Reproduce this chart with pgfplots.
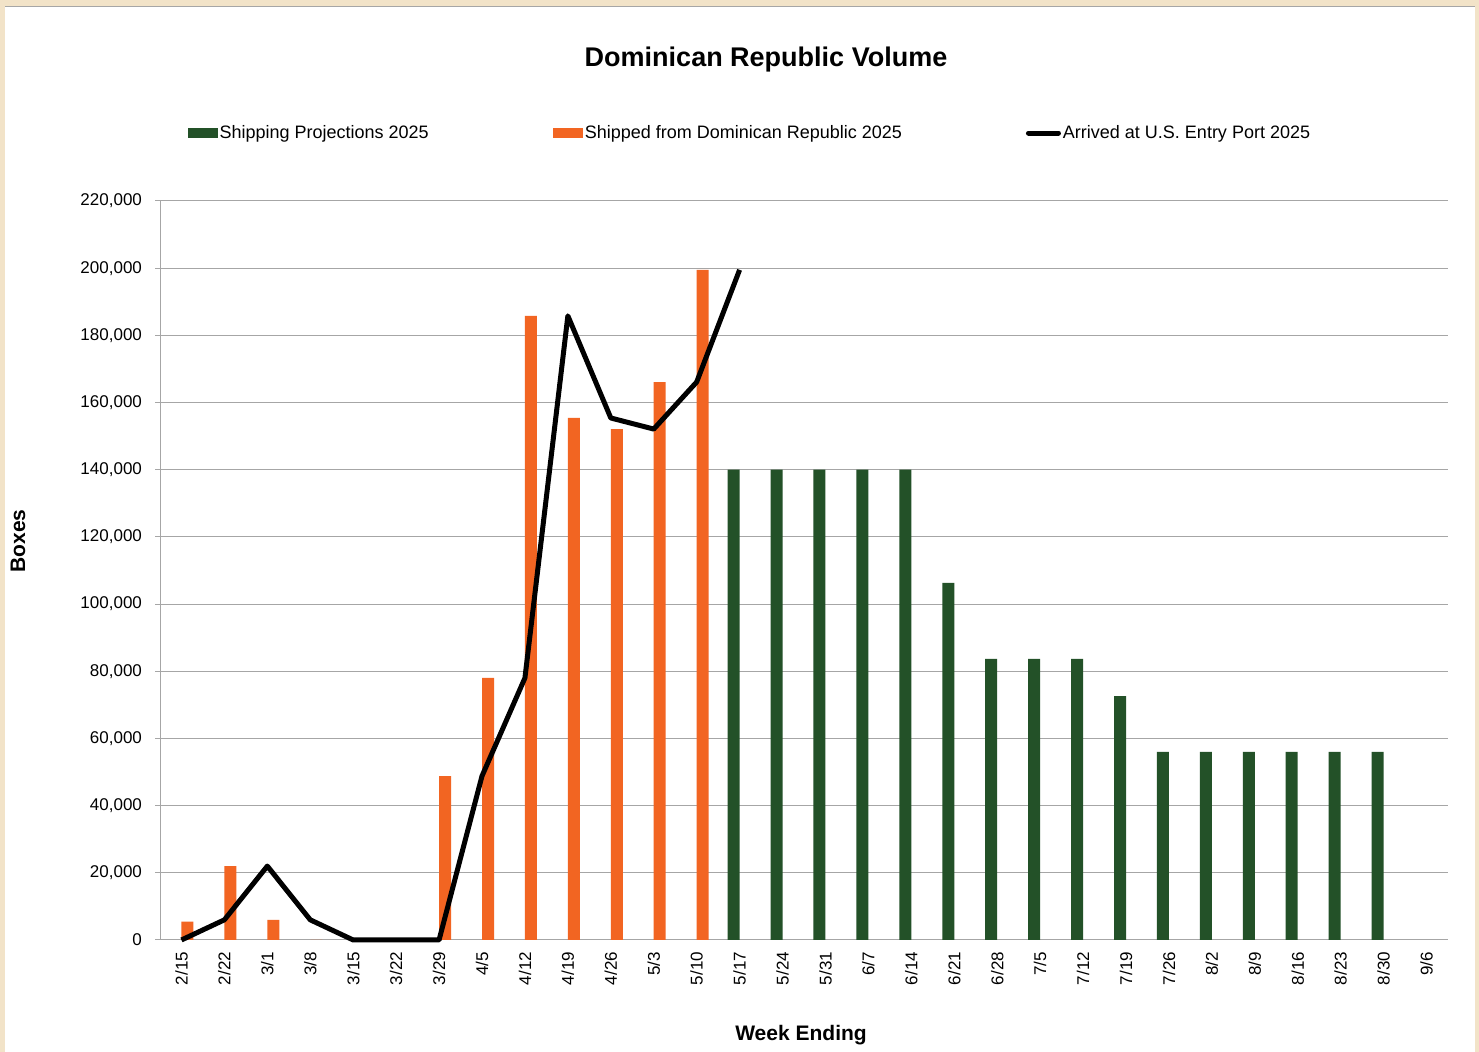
\documentclass[border=0pt]{standalone}
\usepackage{fontspec}
\setmainfont{Liberation Sans}
\usepackage{pgfplots}
\pgfplotsset{compat=1.18}
\definecolor{frame}{HTML}{F2E3C8}
\definecolor{shipped}{HTML}{F26522}
\definecolor{proj}{HTML}{235128}
\definecolor{gridgray}{HTML}{A6A6A6}

\begin{document}
\begin{tikzpicture}
\fill[frame] (0,0) rectangle (739.5pt,526pt);
\fill[white] (2.5pt,0) rectangle (737.5pt,522.5pt);
\draw[gridgray,line width=0.5pt] (2.5pt,522.5pt) -- (737.5pt,522.5pt);
\begin{axis}[
  at={(80pt,56pt)}, anchor=south west,
  scale only axis, width=644pt, height=369.5pt,
  ybar=0pt, bar width=6pt,
  xmin=-0.5, xmax=29.5, ymin=0, ymax=220000,
  clip=false,
  axis lines*=left,
  axis line style={gridgray,line width=0.5pt},
  tick align=outside,
  major tick length=2.5pt, minor tick length=2.5pt,
  xtick={0,...,29},
  xticklabels={2/15,2/22,3/1,3/8,3/15,3/22,3/29,4/5,4/12,4/19,4/26,5/3,5/10,5/17,5/24,5/31,6/7,6/14,6/21,6/28,7/5,7/12,7/19,7/26,8/2,8/9,8/16,8/23,8/30,9/6},
  minor xtick={-0.5,0.5,...,29.5},
  xtick style={draw=none},
  minor x tick style={gridgray,line width=0.5pt},
  ytick={0,20000,...,220000},
  ytick style={gridgray,line width=0.5pt},
  ymajorgrids, major grid style={gridgray,line width=0.5pt},
  scaled y ticks=false,
  /pgf/number format/.cd, fixed, 1000 sep={,}, assume math mode=true,
  /pgfplots/.cd,
  ticklabel style={font=\fontsize{8.5}{10}\selectfont},
  xticklabel style={rotate=90, anchor=east},
  yticklabel style={xshift=-3pt},
  title={Dominican Republic Volume},
  title style={font=\bfseries\fontsize{13.5}{15}\selectfont, at={(axis description cs:0.4705,1.1746)}, anchor=center},
  xlabel={Week Ending},
  xlabel style={font=\bfseries\fontsize{10.5}{12}\selectfont, at={(axis description cs:0.4977,-0.1286)}, anchor=center},
  ylabel={Boxes},
  ylabel style={font=\bfseries\fontsize{10.5}{12}\selectfont, at={(axis description cs:-0.1102,0.540)}, anchor=center, rotate=0},
  legend columns=3,
  legend style={draw=none, font=\fontsize{9}{10}\selectfont,
    at={(axis description cs:0.0165,1.092)}, anchor=west,
    nodes={inner xsep=1pt},
    /tikz/every even column/.append style={column sep=61pt}},
  legend image code/.code={\draw[#1,draw=none] (0cm,-2.5pt) rectangle (15pt,2.5pt);},
]
\addplot[fill=proj, draw=none] coordinates {
  (13,140000) (14,140000) (15,140000) (16,140000) (17,140000)
  (18,106300) (19,83700) (20,83700) (21,83700) (22,72600)
  (23,56000) (24,56000) (25,56000) (26,56000) (27,56000) (28,56000)
};
\addlegendentry{Shipping Projections 2025}
\addplot[fill=shipped, draw=none] coordinates {
  (0,5500) (1,22000) (2,6000) (3,0) (4,0) (5,0) (6,48800)
  (7,78000) (8,185800) (9,155400) (10,152100) (11,166100) (12,199500)
};
\addlegendentry{Shipped from Dominican Republic 2025}
\addplot[sharp plot, black, line width=2.5pt, line join=round,
  legend image code/.code={\draw[black,line width=2.5pt,line cap=round] (0pt,0pt) -- (15pt,0pt);}]
  coordinates {
  (0,0) (1,6000) (2,22000) (3,6000) (4,0) (5,0) (6,0)
  (7,48800) (8,78000) (9,185800) (10,155400) (11,152100) (12,166100) (13,199500)
};
\addlegendentry{Arrived at U.S. Entry Port 2025}
\end{axis}
\pgfresetboundingbox
\path[use as bounding box] (0,0) rectangle (739.5pt,526pt);
\end{tikzpicture}
\end{document}
